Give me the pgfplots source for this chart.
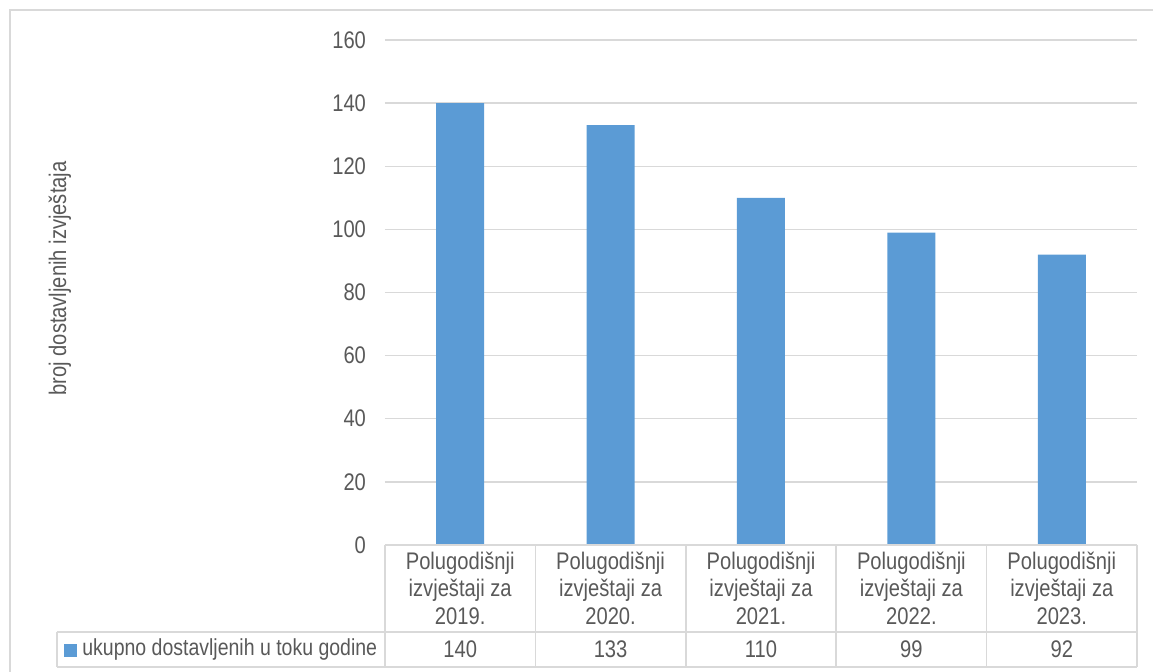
\documentclass[border=0pt]{standalone}
\usepackage{fontspec}
\setmainfont[FakeStretch=0.84]{Liberation Sans}
\usepackage{pgfplots}
\pgfplotsset{compat=1.18}
\definecolor{barblue}{HTML}{5B9BD5}
\definecolor{txtgray}{HTML}{595959}
\definecolor{gridgray}{HTML}{D9D9D9}
\newcommand{\cf}{\fontsize{12}{13.7}\selectfont}
\begin{document}
\begin{tikzpicture}
\useasboundingbox (-192.5pt,-63.5pt) rectangle (384pt,272.5pt);
% chart frame
\draw[gridgray, line width=0.8pt] (-187.5pt,-70pt) -- (-187.5pt,267.5pt) -- (390pt,267.5pt);
\begin{axis}[
  at={(0,0)}, anchor=south west,
  scale only axis, width=376pt, height=252.5pt,
  xmin=-0.5, xmax=4.5, ymin=0, ymax=160,
  ytick={0,20,...,160},
  xtick=data,
  xticklabels={{Polugodišnji\\izvještaji za\\2019.},{Polugodišnji\\izvještaji za\\2020.},{Polugodišnji\\izvještaji za\\2021.},{Polugodišnji\\izvještaji za\\2022.},{Polugodišnji\\izvještaji za\\2023.}},
  xticklabel style={align=center, anchor=north, font=\cf, text=txtgray, yshift=0pt},
  yticklabel style={anchor=east, font=\cf, text=txtgray, xshift=-6pt},
  /pgf/number format/assume math mode=true,
  major tick length=0pt,
  axis line style={draw=none},
  ymajorgrids, grid style={gridgray, line width=0.7pt},
  clip=false,
]
\addplot[ybar, bar width=24pt, fill=barblue, draw=none] coordinates {(0,140) (1,133) (2,110) (3,99) (4,92)};

% data table under the axis
\draw[gridgray, line width=0.8pt] (axis cs:-0.5,0) -- (axis cs:4.5,0);
\pgfplotsinvokeforeach{-0.5,0.5,1.5,2.5,3.5,4.5}{
  \draw[gridgray, line width=0.8pt] (axis cs:#1,0) -- ([yshift=-61pt]axis cs:#1,0);
}
\draw[gridgray, line width=0.8pt] ([xshift=-164pt,yshift=-43.5pt]axis cs:-0.5,0) -- ([yshift=-43.5pt]axis cs:4.5,0);
\draw[gridgray, line width=0.8pt] ([xshift=-164pt,yshift=-61pt]axis cs:-0.5,0) -- ([yshift=-61pt]axis cs:4.5,0);
\draw[gridgray, line width=0.8pt] ([xshift=-164pt,yshift=-43.5pt]axis cs:-0.5,0) -- ([xshift=-164pt,yshift=-61pt]axis cs:-0.5,0);
\node[font=\cf, text=txtgray] at ([yshift=-52.3pt]axis cs:0,0) {140};
\node[font=\cf, text=txtgray] at ([yshift=-52.3pt]axis cs:1,0) {133};
\node[font=\cf, text=txtgray] at ([yshift=-52.3pt]axis cs:2,0) {110};
\node[font=\cf, text=txtgray] at ([yshift=-52.3pt]axis cs:3,0) {99};
\node[font=\cf, text=txtgray] at ([yshift=-52.3pt]axis cs:4,0) {92};
\fill[barblue] ([xshift=-160.5pt,yshift=-49.5pt]axis cs:-0.5,0) rectangle ([xshift=-154pt,yshift=-56pt]axis cs:-0.5,0);
\node[font=\fontsize{11.6}{13}\selectfont, text=txtgray, anchor=west, inner sep=0pt] at ([xshift=-151.5pt,yshift=-52.5pt]axis cs:-0.5,0) {ukupno dostavljenih u toku godine};
% y label
\node[font=\cf, text=txtgray, rotate=90] at ([xshift=-162.5pt,yshift=7pt]rel axis cs:0,0.5) {broj dostavljenih izvještaja};
\end{axis}
\end{tikzpicture}
\end{document}
